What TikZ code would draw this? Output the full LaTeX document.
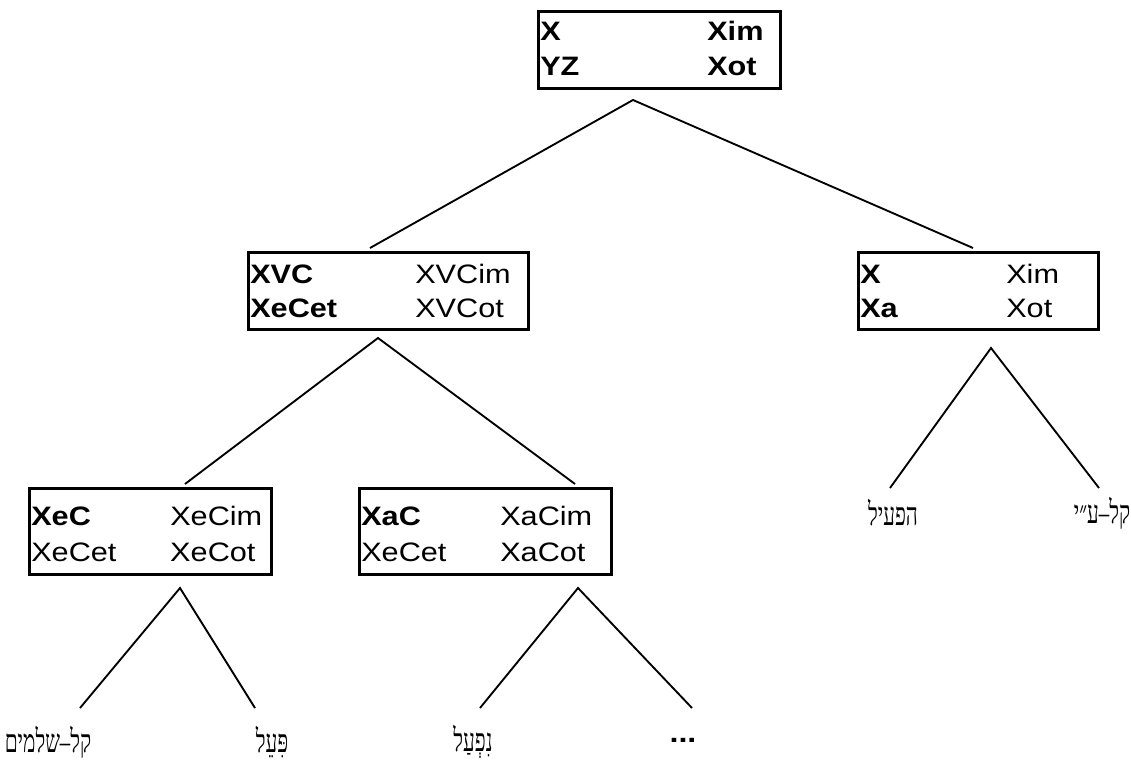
\documentclass[tikz,border=0pt]{standalone}
\usepackage{fontspec}
\setmainfont{Liberation Sans}[FakeStretch=1.15]
\newfontfamily\hebfont[Script=Hebrew, FakeStretch=0.65]{Liberation Serif}
\TeXXeTstate=1
\newlength\pxu
\setlength\pxu{0.75pt}

\begin{document}
\begin{tikzpicture}[x=0.75pt, y=-0.75pt,
        formbox/.style={draw, line width=2pt, anchor=north west, inner sep=0pt},
        forms/.style={anchor=base west, inner sep=0pt, font=\fontsize{20}{#1}\selectfont},
        gloss/.style={inner sep=0pt, font=\hebfont\fontsize{24}{26}\selectfont},
        branch/.style={line width=1.4pt}]
        % Fix the page size
        \useasboundingbox (0,0) rectangle (1131,763);

        % Define the boxes of forms
        \node[formbox, minimum width=242\pxu, minimum height=77\pxu] (root) at (537,10) {};
        \node[forms=26pt] (root-forms) at (540,41) {\begin{tabular}[t]{@{}p{167\pxu}@{}l@{}}
            \bfseries X & \bfseries Xim\\ \bfseries YZ & \bfseries Xot\end{tabular}};

        \node[formbox, minimum width=280\pxu, minimum height=77\pxu] (vc) at (247,251) {};
        \node[forms=26pt] (vc-forms) at (250,283) {\begin{tabular}[t]{@{}p{165\pxu}@{}l@{}}
            \bfseries XVC & XVCim\\ \bfseries XeCet & XVCot\end{tabular}};

        \node[formbox, minimum width=240\pxu, minimum height=77\pxu] (a) at (857,251) {};
        \node[forms=26pt] (a-forms) at (860,283) {\begin{tabular}[t]{@{}p{146\pxu}@{}l@{}}
            \bfseries X & Xim\\ \bfseries Xa & Xot\end{tabular}};

        \node[formbox, minimum width=242\pxu, minimum height=86\pxu] (ec) at (28,487) {};
        \node[forms=27.5pt] (ec-forms) at (31,525) {\begin{tabular}[t]{@{}p{139\pxu}@{}l@{}}
            \bfseries XeC & XeCim\\ XeCet & XeCot\end{tabular}};

        \node[formbox, minimum width=252\pxu, minimum height=86\pxu] (ac) at (358,487) {};
        \node[forms=27.5pt] (ac-forms) at (361,525) {\begin{tabular}[t]{@{}p{139\pxu}@{}l@{}}
            \bfseries XaC & XaCim\\ XeCet & XaCot\end{tabular}};

        % Add the binyan labels
        \node[gloss] (shlemim) at (48,742) {\beginR קל–שלמים\endR};
        \node[gloss] (piel) at (272,742) {\beginR פִּעֵל\endR};
        \node[gloss] (nifal) at (473,742) {\beginR נִפְעַל\endR};
        \node[inner sep=0pt, font=\fontsize{21}{24}\selectfont\bfseries] (more) at (683,740) {...};
        \node[gloss] (hifil) at (893,513) {\beginR הפעיל\endR};
        \node[gloss] (ayin) at (1102,513) {\beginR קל–ע״י\endR};

        % Branch points
        \coordinate (root-fork) at (633,100);
        \coordinate (vc-fork) at (378,338);
        \coordinate (a-fork) at (991,348);
        \coordinate (ec-fork) at (180,588);
        \coordinate (ac-fork) at (578,588);
        \coordinate (vc-end) at (370,248);
        \coordinate (a-end) at (973,248);
        \coordinate (ec-end) at (185,484);
        \coordinate (ac-end) at (575,484);
        \coordinate (hifil-end) at (890,488);
        \coordinate (ayin-end) at (1099,488);
        \coordinate (shlemim-end) at (80,708);
        \coordinate (piel-end) at (255,708);
        \coordinate (nifal-end) at (480,708);
        \coordinate (more-end) at (692,708);

        % Draw the branches
        \draw[branch] (vc-end) -- (root-fork) -- (a-end);
        \draw[branch] (ec-end) -- (vc-fork) -- (ac-end);
        \draw[branch] (hifil-end) -- (a-fork) -- (ayin-end);
        \draw[branch] (shlemim-end) -- (ec-fork) -- (piel-end);
        \draw[branch] (nifal-end) -- (ac-fork) -- (more-end);
    \end{tikzpicture}
\end{document}
